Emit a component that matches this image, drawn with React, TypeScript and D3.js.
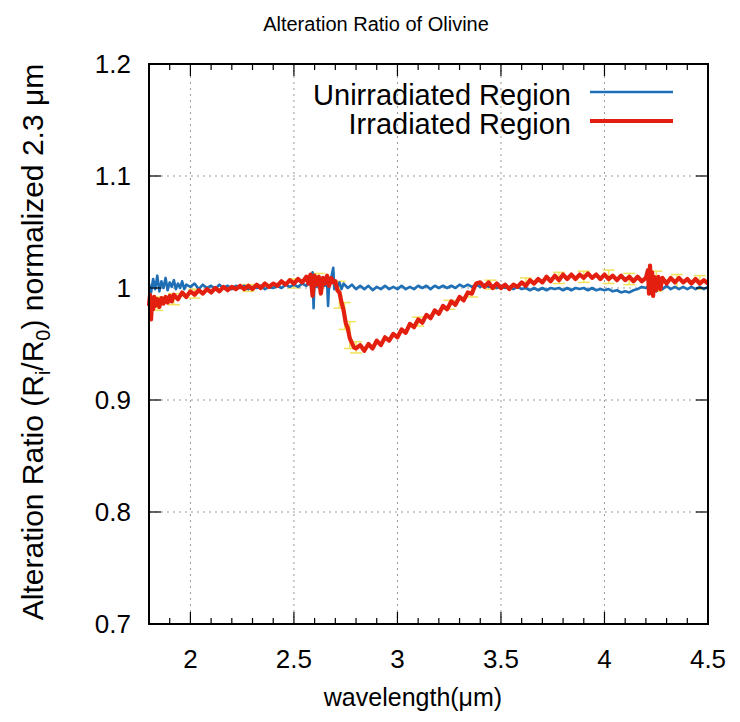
import React from "react";
import * as d3 from "d3";

// wavelength (um), ratio
const unirradiated: [number, number][] = [
  [1.80, 1.004], [1.81, 0.996], [1.82, 1.008], [1.83, 0.999], [1.84, 1.011], [1.85, 0.997],
  [1.86, 1.006], [1.87, 1.000], [1.88, 1.009], [1.89, 0.998], [1.90, 1.005], [1.91, 1.001],
  [1.92, 1.007], [1.93, 0.999], [1.94, 1.004], [1.95, 1.000], [1.96, 1.006], [1.97, 0.999],
  [1.98, 1.003], [2.00, 1.001], [2.02, 1.004], [2.04, 0.999], [2.06, 1.003], [2.08, 1.000],
  [2.10, 1.002], [2.12, 0.999], [2.14, 1.003], [2.16, 1.000], [2.18, 1.002], [2.20, 0.999],
  [2.22, 1.002], [2.24, 1.000], [2.26, 1.002], [2.28, 0.999], [2.30, 1.001], [2.32, 1.000],
  [2.34, 1.002], [2.36, 0.999], [2.38, 1.001], [2.40, 1.000], [2.42, 1.002], [2.44, 1.000],
  [2.46, 1.003], [2.48, 1.001], [2.50, 1.003], [2.52, 1.001], [2.54, 1.004], [2.56, 1.002],
  [2.58, 1.006], [2.59, 1.014], [2.595, 0.982], [2.60, 1.010], [2.61, 1.001], [2.62, 1.007],
  [2.63, 1.003], [2.64, 1.008], [2.65, 1.002], [2.66, 1.006], [2.665, 0.984], [2.67, 1.005],
  [2.68, 1.009], [2.69, 1.018], [2.695, 0.999], [2.70, 1.006], [2.71, 1.001], [2.72, 1.005],
  [2.73, 0.999], [2.74, 1.004], [2.76, 1.000], [2.78, 1.003], [2.80, 0.999], [2.82, 1.002],
  [2.84, 0.999], [2.86, 1.002], [2.88, 0.998], [2.90, 1.001], [2.92, 0.999], [2.94, 1.002],
  [2.96, 0.999], [2.98, 1.001], [3.00, 0.999], [3.02, 1.002], [3.04, 0.999], [3.06, 1.001],
  [3.08, 0.999], [3.10, 1.002], [3.12, 1.000], [3.14, 1.002], [3.16, 0.999], [3.18, 1.002],
  [3.20, 1.000], [3.22, 1.002], [3.24, 1.000], [3.26, 1.002], [3.28, 1.000], [3.30, 1.003],
  [3.32, 1.001], [3.34, 1.003], [3.36, 1.001], [3.38, 1.003], [3.40, 1.001], [3.42, 1.003],
  [3.44, 1.001], [3.46, 1.002], [3.48, 1.000], [3.50, 1.002], [3.52, 1.000], [3.54, 1.001],
  [3.56, 0.999], [3.58, 1.001], [3.60, 0.999], [3.62, 1.000], [3.64, 0.998], [3.66, 1.000],
  [3.68, 0.998], [3.70, 1.000], [3.72, 0.998], [3.74, 1.000], [3.76, 0.999], [3.78, 1.000],
  [3.80, 0.998], [3.82, 1.000], [3.84, 0.998], [3.86, 1.000], [3.88, 0.999], [3.90, 1.000],
  [3.92, 0.998], [3.94, 1.000], [3.96, 0.998], [3.98, 0.999], [4.00, 0.998], [4.02, 0.999],
  [4.04, 0.997], [4.06, 0.998], [4.08, 0.996], [4.10, 0.997], [4.12, 0.996], [4.14, 0.998],
  [4.16, 0.999], [4.18, 1.001], [4.20, 1.000], [4.22, 1.003], [4.23, 0.994], [4.24, 1.006],
  [4.25, 0.997], [4.26, 1.004], [4.28, 0.999], [4.30, 1.002], [4.32, 0.999], [4.34, 1.001],
  [4.36, 0.999], [4.38, 1.001], [4.40, 0.999], [4.42, 1.001], [4.44, 0.999], [4.46, 1.001],
  [4.48, 0.999], [4.50, 1.001],
];

const irradiated: [number, number][] = [
  [1.80, 0.984], [1.805, 0.994], [1.81, 0.972], [1.815, 0.990], [1.82, 0.981], [1.825, 0.992],
  [1.83, 0.984], [1.84, 0.990], [1.85, 0.983], [1.86, 0.991], [1.87, 0.986], [1.88, 0.992],
  [1.89, 0.987], [1.90, 0.993], [1.91, 0.988], [1.92, 0.994], [1.94, 0.990], [1.96, 0.996],
  [1.98, 0.992], [2.00, 0.997], [2.02, 0.994], [2.04, 0.998], [2.06, 0.995], [2.08, 0.999],
  [2.10, 0.996], [2.12, 1.000], [2.14, 0.997], [2.16, 1.001], [2.18, 0.998], [2.20, 1.001],
  [2.22, 0.999], [2.24, 1.002], [2.26, 0.999], [2.28, 1.002], [2.30, 0.999], [2.32, 1.003],
  [2.34, 1.000], [2.36, 1.004], [2.38, 1.001], [2.40, 1.004], [2.42, 1.002], [2.44, 1.006],
  [2.46, 1.003], [2.48, 1.007], [2.50, 1.004], [2.52, 1.008], [2.54, 1.005], [2.56, 1.010],
  [2.57, 1.004], [2.58, 1.012], [2.59, 0.993], [2.60, 1.011], [2.61, 1.003], [2.62, 1.010],
  [2.63, 0.995], [2.64, 1.009], [2.65, 1.004], [2.66, 1.011], [2.67, 1.002], [2.68, 1.009],
  [2.69, 1.005], [2.70, 1.006], [2.71, 0.998], [2.72, 0.996], [2.73, 0.987], [2.74, 0.980],
  [2.75, 0.969], [2.76, 0.964], [2.77, 0.955], [2.78, 0.951], [2.79, 0.947], [2.80, 0.946],
  [2.82, 0.949], [2.84, 0.944], [2.86, 0.950], [2.88, 0.946], [2.90, 0.953], [2.92, 0.949],
  [2.94, 0.956], [2.96, 0.953], [2.98, 0.959], [3.00, 0.956], [3.02, 0.963], [3.04, 0.960],
  [3.06, 0.968], [3.08, 0.965], [3.10, 0.972], [3.12, 0.969], [3.14, 0.976], [3.16, 0.973],
  [3.18, 0.980], [3.20, 0.977], [3.22, 0.984], [3.24, 0.981], [3.26, 0.988], [3.28, 0.985],
  [3.30, 0.992], [3.32, 0.989], [3.34, 0.996], [3.36, 0.995], [3.37, 1.000], [3.38, 1.004],
  [3.40, 1.005], [3.42, 1.001], [3.44, 1.005], [3.46, 1.000], [3.48, 1.004], [3.50, 1.000],
  [3.52, 1.003], [3.54, 0.999], [3.56, 1.003], [3.58, 1.001], [3.60, 1.005], [3.62, 1.002],
  [3.64, 1.007], [3.66, 1.004], [3.68, 1.008], [3.70, 1.005], [3.72, 1.010], [3.74, 1.006],
  [3.76, 1.011], [3.78, 1.007], [3.80, 1.012], [3.82, 1.008], [3.84, 1.012], [3.86, 1.008],
  [3.88, 1.012], [3.90, 1.009], [3.92, 1.013], [3.94, 1.009], [3.96, 1.012], [3.98, 1.008],
  [4.00, 1.012], [4.02, 1.008], [4.04, 1.011], [4.06, 1.007], [4.08, 1.011], [4.10, 1.007],
  [4.12, 1.010], [4.14, 1.006], [4.16, 1.010], [4.18, 1.006], [4.20, 1.009], [4.21, 1.016],
  [4.215, 0.995], [4.22, 1.020], [4.225, 0.997], [4.23, 1.014], [4.235, 0.993], [4.24, 1.010],
  [4.25, 0.998], [4.26, 1.010], [4.27, 0.999], [4.28, 1.009], [4.30, 1.004], [4.32, 1.009],
  [4.34, 1.005], [4.36, 1.009], [4.38, 1.005], [4.40, 1.008], [4.42, 1.004], [4.44, 1.008],
  [4.46, 1.004], [4.48, 1.007], [4.50, 1.004],
];

// wavelength, ratio, error (yellow error bars under the curves)
const errorBars: [number, number, number][] = [
  [1.84, 0.986, 0.006], [1.92, 0.990, 0.005], [2.02, 0.995, 0.004], [2.28, 1.000, 0.003],
  [2.50, 1.004, 0.004], [2.62, 1.007, 0.006], [2.72, 0.994, 0.012], [2.745, 0.975, 0.012],
  [2.77, 0.958, 0.012], [2.80, 0.947, 0.005], [3.10, 0.970, 0.004], [3.25, 0.985, 0.004],
  [3.36, 0.997, 0.005], [3.45, 1.003, 0.004], [3.62, 1.004, 0.005], [3.78, 1.009, 0.005],
  [3.90, 1.010, 0.005], [4.02, 1.010, 0.006], [4.12, 1.008, 0.005], [4.25, 1.006, 0.009],
  [4.35, 1.006, 0.006], [4.46, 1.005, 0.006],
];

const xTicks = [2, 2.5, 3, 3.5, 4, 4.5];
const xMinor = d3.range(19, 45).map((d) => d / 10);
const yTicks = [0.7, 0.8, 0.9, 1.0, 1.1, 1.2];

const FONT = "'Liberation Sans', Arial, Helvetica, sans-serif";
const BLUE = "#1f6fb6";
const RED = "#e3200f";
const YELLOW = "#f1e35c";

export default function App() {
  const W = 740, H = 722;
  const left = 149, right = 708, top = 64, bottom = 624;

  const x = d3.scaleLinear().domain([1.8, 4.5]).range([left, right]);
  const y = d3.scaleLinear().domain([0.7, 1.2]).range([bottom, top]);
  const line = d3.line<[number, number]>().x((d) => x(d[0])).y((d) => y(d[1]));

  return (
    <svg width={W} height={H} style={{ position: "absolute", left: 0, top: 0, background: "#fff" }} fontFamily={FONT}>
      {/* grid */}
      {xTicks.filter((t) => t < 4.5).map((t) => (
        <line key={"gx" + t} x1={x(t)} x2={x(t)} y1={top} y2={bottom} stroke="#999" strokeWidth={1} strokeDasharray="2,4" />
      ))}
      {yTicks.filter((t) => t > 0.7 && t < 1.2).map((t) => (
        <line key={"gy" + t} x1={left} x2={right} y1={y(t)} y2={y(t)} stroke="#999" strokeWidth={1} strokeDasharray="2,4" />
      ))}

      {/* error bars */}
      {errorBars.map(([wx, v, e], i) => (
        <g key={"eb" + i} stroke={YELLOW} strokeWidth={1.5}>
          <line x1={x(wx)} x2={x(wx)} y1={y(v - e)} y2={y(v + e)} />
          <line x1={x(wx) - 6} x2={x(wx) + 6} y1={y(v - e)} y2={y(v - e)} />
          <line x1={x(wx) - 6} x2={x(wx) + 6} y1={y(v + e)} y2={y(v + e)} />
        </g>
      ))}

      <path d={line(unirradiated) ?? ""} fill="none" stroke={BLUE} strokeWidth={2.6} strokeLinejoin="round" />
      <path d={line(irradiated) ?? ""} fill="none" stroke={RED} strokeWidth={4.2} strokeLinejoin="round" />

      {/* frame */}
      <rect x={left} y={top} width={right - left} height={bottom - top} fill="none" stroke="#000" strokeWidth={2} />

      {/* ticks */}
      {xTicks.map((t) => (
        <g key={"xt" + t}>
          <line x1={x(t)} x2={x(t)} y1={bottom} y2={bottom - 12} stroke="#000" strokeWidth={1.2} />
          <line x1={x(t)} x2={x(t)} y1={top} y2={top + 12} stroke="#000" strokeWidth={1.2} />
          <text x={x(t)} y={bottom + 44} fontSize={26} textAnchor="middle">{t}</text>
        </g>
      ))}
      {xMinor.filter((t) => !xTicks.some((m) => Math.abs(m - t) < 1e-6)).map((t) => (
        <g key={"xm" + t}>
          <line x1={x(t)} x2={x(t)} y1={bottom} y2={bottom - 6} stroke="#000" strokeWidth={1.2} />
          <line x1={x(t)} x2={x(t)} y1={top} y2={top + 6} stroke="#000" strokeWidth={1.2} />
        </g>
      ))}
      {yTicks.map((t) => (
        <g key={"yt" + t}>
          <line x1={left} x2={left + 12} y1={y(t)} y2={y(t)} stroke="#000" strokeWidth={1.2} />
          <line x1={right} x2={right - 12} y1={y(t)} y2={y(t)} stroke="#000" strokeWidth={1.2} />
          <text x={131} y={y(t) + 9} fontSize={26} textAnchor="end">{t === 1 ? "1" : t.toFixed(1)}</text>
        </g>
      ))}

      {/* legend */}
      <text x={571} y={105} fontSize={29} textAnchor="end">Unirradiated Region</text>
      <line x1={590} x2={673} y1={92} y2={92} stroke={BLUE} strokeWidth={2.6} />
      <text x={571} y={134} fontSize={29} textAnchor="end">Irradiated Region</text>
      <line x1={590} x2={673} y1={121} y2={121} stroke={RED} strokeWidth={4.2} />

      {/* titles */}
      <text x={376} y={31} fontSize={20} textAnchor="middle">Alteration Ratio of Olivine</text>
      <text x={413} y={706} fontSize={25} textAnchor="middle">wavelength(μm)</text>
      <text transform="translate(43,342) rotate(-90)" fontSize={30} textAnchor="middle">
        Alteration Ratio (R<tspan fontSize={20} dy={7}>i</tspan>
        <tspan dy={-7}>/R</tspan>
        <tspan fontSize={20} dy={7}>0</tspan>
        <tspan dy={-7}>) normalized 2.3 μm</tspan>
      </text>
    </svg>
  );
}
